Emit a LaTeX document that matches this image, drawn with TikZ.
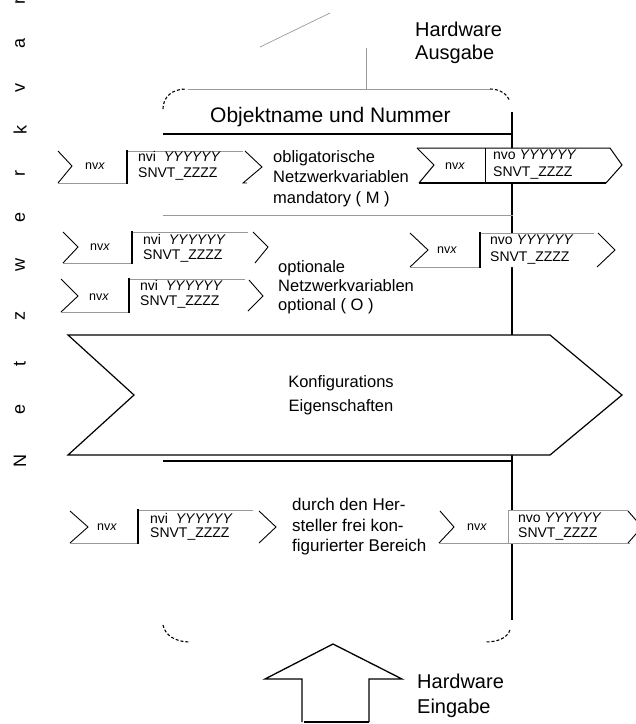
\documentclass[tikz,border=0pt]{standalone}
\usepackage{fontspec}
\setmainfont{Liberation Sans}
\begin{document}
\begin{tikzpicture}[x=1pt,y=-1pt,
  gl/.style={draw=black!40, line width=0.7pt},
  bl/.style={draw=black, line width=0.9pt},
  sepl/.style={draw=black, line width=1.6pt},
  lbl/.style={font=\fontsize{16.5}{20.5}\selectfont, align=left, inner sep=0pt, anchor=west},
  boxtxt/.style={font=\fontsize{14}{16}\selectfont, inner sep=0pt, anchor=west},
  nvxtxt/.style={font=\fontsize{12.5}{14}\selectfont, inner sep=0pt},
  vert/.style={rotate=90, font=\fontsize{18}{18}\selectfont, inner sep=0pt},
  dsh/.style={draw=black, line width=1.1pt, dash pattern=on 3pt off 2pt},
  wfill/.style={fill=white, draw=none}
]
\useasboundingbox (0,0) rectangle (636,724);
\clip (0,0) rectangle (636,724);

% vertical spaced label
\foreach \ch/\yy [count=\i] in {N/461,e/409,t/364,z/316,w/265,e/217,r/173,k/130,v/88,a/43,r/1}
  \node[vert] (v\i) at (20,\yy) {\ch};

% top hardware output remnants
\coordinate (d1) at (260,47); \coordinate (d2) at (330,13);
\draw[gl] (d1) -- (d2);
\coordinate (g1) at (366,48); \coordinate (g2) at (366,89);
\draw[gl] (g1) -- (g2);
\node[font=\fontsize{20}{22.5}\selectfont, align=left, inner sep=0pt, anchor=west] (hwout) at (415,43) {Hardware\\Ausgabe};

% frame
\coordinate (t1) at (188,89); \coordinate (t2) at (490,89);
\draw[gl] (t1) -- (t2);
\draw[dsh] (163,109) .. controls (163,97) and (172,89) .. (186,89);
\draw[dsh] (490,89) .. controls (500,89) and (507,94) .. (510,101);
\draw[dsh] (163,625) .. controls (165,635) and (175,642) .. (190,642);
\draw[dsh] (510,630) .. controls (507,638) and (498,642) .. (485,642);

% main vertical line
\coordinate (vtop) at (512,112); \coordinate (vbot) at (512,620);
\draw[draw=black, line width=1.4pt] (vtop) -- (vbot);

% title
\node[font=\fontsize{21}{24}\selectfont, inner sep=0pt, anchor=west] (title) at (210,117) {Objektname und Nummer};
\coordinate (h1) at (163,134); \coordinate (h2) at (512,134);
\draw[draw=black, line width=2.6pt] (h1) -- (h2);

% ---------- row 1 input
\fill[white] (58,151) -- (245,151) -- (262,167) -- (243,183) -- (58,183) -- (72,166) -- cycle;
\draw[bl] (58,151) -- (72,166) -- (58,183);
\draw[gl] (58,183) -- (127,183);
\draw[gl] (127,151) -- (243,151);
\draw[bl] (245,151) -- (262,167) -- (243,183) -- (247,183);
\draw[sepl] (127,150) -- (127,184);
\node[nvxtxt] (r1a) at (95,166) {nv\textit{x}};
\node[boxtxt] (r1b) at (138,156) {nvi~~\textit{YYYYYY}};
\node[boxtxt] (r1c) at (138,174) {SNVT\_ZZZZ};

\node[lbl] (oblig) at (273,178.5) {obligatorische\\Netzwerkvariablen\\mandatory ( M )};

% ---------- row 1 output
\fill[white] (417,148) -- (610,148) -- (622,165) -- (606,183) -- (419,183) -- (434,165) -- cycle;
\draw[draw=black, line width=1pt] (417,148) -- (610,148) -- (622,165) -- (606,183);
\draw[draw=black, line width=1.6pt] (606,183) -- (419,183);
\draw[draw=black, line width=1pt] (419,183) -- (434,165) -- (417,148);
\draw[draw=black, line width=1pt] (485,148) -- (485,183);
\node[nvxtxt] (o1a) at (455,166) {nv\textit{x}};
\node[boxtxt] (o1b) at (493,155) {nvo \textit{YYYYYY}};
\node[boxtxt] (o1c) at (493,173) {SNVT\_ZZZZ};

% gray separator line
\coordinate (s1) at (163,215); \coordinate (s2) at (513,215);
\draw[gl] (s1) -- (s2);

% ---------- row 2 input A
\fill[white] (63,232) -- (253,232) -- (268,247) -- (255,263) -- (63,263) -- (78,247) -- cycle;
\draw[bl] (63,232) -- (78,247) -- (63,263);
\draw[gl] (63,263) -- (132,263);
\draw[gl] (132,232) -- (248,232);
\draw[bl] (253,232) -- (268,247) -- (255,263);
\draw[sepl] (132,231) -- (132,264);
\node[nvxtxt] (r2a) at (100,247) {nv\textit{x}};
\node[boxtxt] (r2b) at (143,239) {nvi~~\textit{YYYYYY}};
\node[boxtxt] (r2c) at (143,256) {SNVT\_ZZZZ};

% ---------- row 2 input B
\fill[white] (61,279) -- (249,279) -- (263,296) -- (248,311) -- (61,312) -- (78,296) -- cycle;
\draw[bl] (61,279) -- (78,296) -- (61,312);
\draw[gl] (61,312) -- (129,312);
\draw[gl] (129,279) -- (245,279);
\draw[bl] (249,280) -- (263,296) -- (248,311);
\draw[sepl] (129,278) -- (129,313);
\node[nvxtxt] (r3a) at (99,297) {nv\textit{x}};
\node[boxtxt] (r3b) at (140,285) {nvi~~\textit{YYYYYY}};
\node[boxtxt] (r3c) at (140,302) {SNVT\_ZZZZ};

\node[lbl, font=\fontsize{16.5}{19}\selectfont] (opt) at (278,287) {optionale\\Netzwerkvariablen\\optional ( O )};

% ---------- row 2 output
\fill[white] (410,233) -- (598,233) -- (615,250) -- (597,267) -- (410,267) -- (428,250) -- cycle;
\draw[bl] (410,233) -- (428,250) -- (410,267);
\draw[gl] (410,267) -- (480,267);
\draw[gl] (480,233) -- (594,233);
\draw[bl] (598,233) -- (615,250) -- (597,267);
\draw[sepl] (480,232) -- (480,268);
\node[nvxtxt] (o2a) at (447,250) {nv\textit{x}};
\node[boxtxt] (o2b) at (490,240) {nvo \textit{YYYYYY}};
\node[boxtxt] (o2c) at (490,258) {SNVT\_ZZZZ};

% ---------- configuration arrow
\path[fill=white, draw=black, line width=1.2pt] (68,335) -- (550,335) -- (622,395) -- (550,455) -- (68,455) -- (134,395) -- cycle;
\node[font=\fontsize{16.5}{24}\selectfont, align=center, inner sep=0pt] (konf) at (341,395) {Konfigurations\\Eigenschaften};
\coordinate (b1) at (163,461); \coordinate (b2) at (512,461);
\draw[draw=black, line width=1.1pt] (b1) -- (b2);

% ---------- row 3 input
\fill[white] (70,510) -- (259,511) -- (276,527) -- (259,543) -- (70,543) -- (88,527) -- cycle;
\draw[bl] (70,511) -- (88,527) -- (70,543);
\draw[gl] (70,543) -- (138,543);
\draw[gl] (138,510) -- (253,510);
\draw[bl] (259,511) -- (276,527) -- (259,543);
\draw[sepl] (138,509) -- (138,544);
\node[nvxtxt] (r4a) at (107,527) {nv\textit{x}};
\node[boxtxt] (r4b) at (150,518) {nvi~~\textit{YYYYYY}};
\node[boxtxt] (r4c) at (150,534) {SNVT\_ZZZZ};

\node[lbl, font=\fontsize{17}{20.5}\selectfont] (durch) at (292,527) {durch den Her-\\steller frei kon-\\figurierter Bereich};

% ---------- row 3 output
\fill[white] (440,511) -- (628,511) -- (642,527) -- (628,543) -- (439,543) -- (454,527) -- cycle;
\draw[bl] (440,511) -- (454,527) -- (439,543);
\draw[gl] (439,543) -- (630,543);
\draw[gl] (508,510) -- (628,510);
\draw[gl] (508,510) -- (508,543);
\draw[bl] (628,511) -- (642,527) -- (628,543);
\node[nvxtxt] (o3a) at (477,527) {nv\textit{x}};
\node[boxtxt] (o3b) at (518,518) {nvo \textit{YYYYYY}};
\node[boxtxt] (o3c) at (518,534) {SNVT\_ZZZZ};

% ---------- hardware input arrow
\draw[draw=black, line width=1.3pt] (302,722) -- (302,679) -- (265,679) -- (333,644) -- (402,679) -- (369,679) -- (369,722);
\draw[draw=black, line width=1.3pt] (304,722) -- (369,722);
\node[font=\fontsize{20}{25.5}\selectfont, align=left, inner sep=0pt, anchor=west] (hwin) at (417,696) {Hardware\\Eingabe};
\end{tikzpicture}
\end{document}
